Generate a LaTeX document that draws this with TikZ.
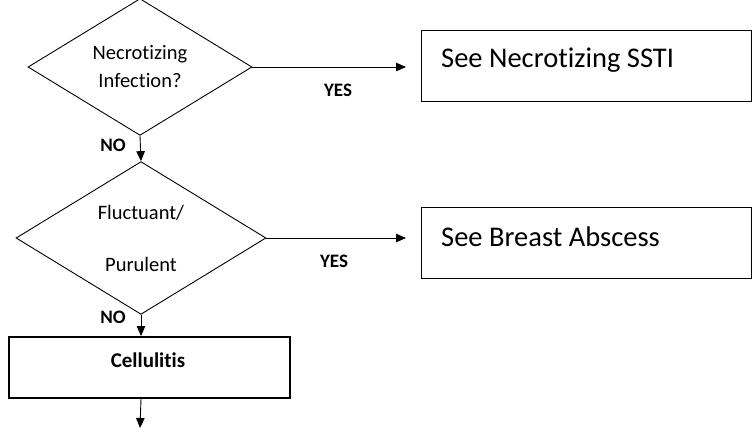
\documentclass[tikz,border=0pt]{standalone}
\usepackage{fontspec}
\setmainfont[Ligatures={NoCommon,NoContextual}]{Carlito}
\usetikzlibrary{shapes.geometric,arrows.meta}
\begin{document}
\begin{tikzpicture}[x=1pt,y=-1pt,
  dec/.style={diamond,draw,line width=0.9pt,inner sep=0pt,align=center,font=\fontsize{20.5}{28}\selectfont},
  outbox/.style={rectangle,draw,line width=1pt,minimum width=330pt,minimum height=71pt,inner sep=0pt},
  outtxt/.style={anchor=west,inner sep=0pt,font=\fontsize{28.5}{32}\selectfont},
  lbl/.style={inner sep=0pt,font=\bfseries\fontsize{19}{22}\selectfont},
  arr/.style={line width=0.9pt,-{Triangle[length=10pt,width=8.5pt]}}]
\useasboundingbox (0,0) rectangle (753,428);
\node[dec,minimum width=224pt,minimum height=122pt] (d1) at (140,67) {Necrotizing\\Infection?};
\node[dec,minimum width=250pt,minimum height=144pt,font=\fontsize{20.5}{52}\selectfont] (d2) at (141,238) {Fluctuant/\\Purulent};
\node[outbox] (b1) at (586,66.5) {};
\node[outtxt] (t1) at (441,60) {See Necrotizing SSTI};
\node[outbox] (b2) at (586,242.5) {};
\node[outtxt] (t2) at (441,237) {See Breast Abscess};
\node[rectangle,draw,line width=2pt,minimum width=281pt,minimum height=61pt,inner sep=0pt] (cell) at (149.5,367.5) {};
\node[lbl,font=\bfseries\fontsize{21}{24}\selectfont] (ct) at (148,360) {Cellulitis};
\coordinate (e1) at (406,67);
\coordinate (e2) at (406,238);
\coordinate (e3) at (140,428);
\draw[arr] (d1.east) -- (e1);
\draw[arr] (d2.east) -- (e2);
\draw[arr] (d1.south) -- (d2.north);
\draw[arr] (d2.south) -- (d2.south |- cell.north);
\draw[arr] (d2.south |- cell.south) -- (e3);
\node[lbl] (y1) at (338,90) {YES};
\node[lbl] (y2) at (334,261) {YES};
\node[lbl] (n1) at (113,145) {NO};
\node[lbl] (n2) at (113,317) {NO};
\end{tikzpicture}
\end{document}
